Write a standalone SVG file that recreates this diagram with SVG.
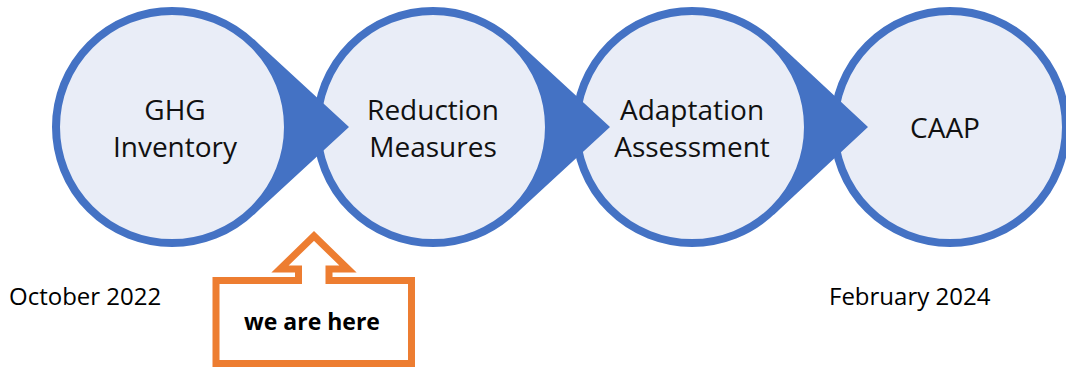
<svg xmlns="http://www.w3.org/2000/svg" width="1066" height="368" viewBox="0 0 1066 368">
<style>
.circ{fill:#E9EDF7;stroke:#4472C4;stroke-width:8}
.wedge{fill:#4472C4}
.lbl{font-family:"Open Sans","Liberation Sans",sans-serif;font-size:28px;fill:#111;text-anchor:middle}
.date{font-family:"Open Sans","Liberation Sans",sans-serif;font-size:24px;fill:#000}
.here{font-family:"Open Sans","Liberation Sans",sans-serif;font-size:23px;font-weight:bold;fill:#000;text-anchor:middle}
</style>
<rect width="1066" height="368" fill="#fff"/>
<g id="node-ghg"><circle class="circ" cx="172" cy="127" r="116"/></g>
<g id="node-reduction"><circle class="circ" cx="433" cy="127" r="116"/></g>
<g id="node-adaptation"><circle class="circ" cx="692" cy="127" r="116"/></g>
<g id="node-caap"><circle class="circ" cx="950" cy="127" r="116"/></g>
<g id="connectors">
<path class="wedge" d="M253.8 39.2 L349 127 L253.8 214.8 L249 209.7 A113 113 0 0 0 249 44.3 Z"/>
<path class="wedge" d="M514.8 39.2 L610 127 L514.8 214.8 L510 209.7 A113 113 0 0 0 510 44.3 Z"/>
<path class="wedge" d="M773.8 39.2 L868 127 L773.8 214.8 L769 209.7 A113 113 0 0 0 769 44.3 Z"/>
</g>
<g id="labels">
<text class="lbl" x="175" y="120">GHG</text>
<text class="lbl" x="175" y="157">Inventory</text>
<text class="lbl" x="433" y="120">Reduction</text>
<text class="lbl" x="433" y="157">Measures</text>
<text class="lbl" x="692" y="120">Adaptation</text>
<text class="lbl" x="692" y="157">Assessment</text>
<text class="lbl" x="945" y="138">CAAP</text>
</g>
<g id="date-start"><text class="date" x="9" y="305">October 2022</text></g>
<g id="date-end"><text class="date" x="829" y="305">February 2024</text></g>
<g id="callout">
<path d="M216 280.5 L298.5 280.5 L298.5 269 L280 269 L314 236 L348 269 L329 269 L329 280.5 L411.5 280.5 L411.5 363.5 L216 363.5 Z" fill="#fff" stroke="#ED7D31" stroke-width="7"/>
<text class="here" x="312" y="330">we are here</text>
</g>
</svg>
